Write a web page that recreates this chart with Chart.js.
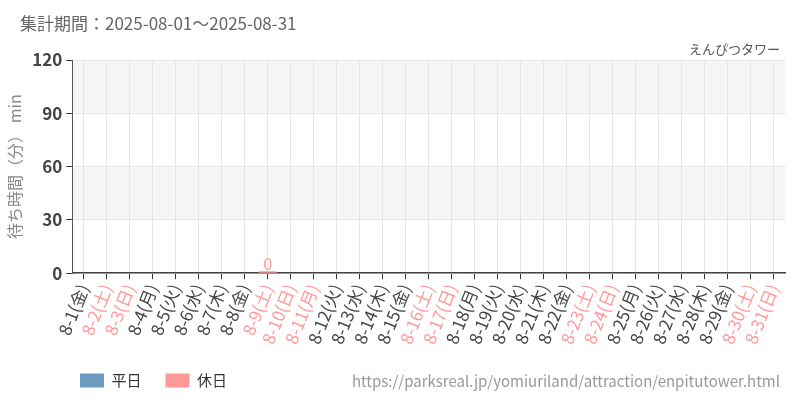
<!DOCTYPE html>
<html>
<head>
<meta charset="utf-8">
<script src="https://cdn.jsdelivr.net/npm/chart.js@4/dist/chart.umd.min.js"></script>
<style>
  body { margin: 0; background: #fff; }
  #wrap { position: relative; width: 800px; height: 400px; font-family: "Noto Sans CJK JP", "Noto Sans", sans-serif; }
  #period { position: absolute; left: 20px; top: 10px; font-size: 17px; color: #666; }
  #name { position: absolute; right: 20px; top: 39px; font-size: 13px; color: #555; }
  #url { position: absolute; right: 20px; top: 370px; font-size: 15px; color: #999; }
</style>
</head>
<body>
<div id="wrap">
  <canvas id="waitChart" width="800" height="400"></canvas>
  <div id="period">集計期間：2025-08-01～2025-08-31</div>
  <div id="name">えんぴつタワー</div>
  <div id="url">https://parksreal.jp/yomiuriland/attraction/enpitutower.html</div>
</div>
<script>
let labels = ['8-1(金)','8-2(土)','8-3(日)','8-4(月)','8-5(火)','8-6(水)','8-7(木)','8-8(金)','8-9(土)','8-10(日)',
              '8-11(月)','8-12(火)','8-13(水)','8-14(木)','8-15(金)','8-16(土)','8-17(日)','8-18(月)','8-19(火)','8-20(水)',
              '8-21(木)','8-22(金)','8-23(土)','8-24(日)','8-25(月)','8-26(火)','8-27(水)','8-28(木)','8-29(金)','8-30(土)','8-31(日)'];
// 1 = 休日 (土日祝)
let holiday = [0,1,1,0,0,0,0,0,1,1, 1,0,0,0,0,1,1,0,0,0, 0,0,1,1,0,0,0,0,0,1,1];
// 平均待ち時間（分）, null = データなし
let waitTimes = [null,null,null,null,null,null,null,null,0,null,
                 null,null,null,null,null,null,null,null,null,null,
                 null,null,null,null,null,null,null,null,null,null,null];
let yTicks = [0,30,60,90,120];

const BLUE = '#6b9bc3';
const PINK = '#ff9999';

let weekdayData = waitTimes.map(function(v,i){ return holiday[i] ? null : v; });
let holidayData = waitTimes.map(function(v,i){ return holiday[i] ? v : null; });

// 30-60, 90-120 の帯
const bandPlugin = {
    id: 'bands',
    beforeDraw: function(chart){
        let ctx = chart.ctx, a = chart.chartArea, y = chart.scales.y;
        ctx.save();
        ctx.fillStyle = '#f5f5f5';
        [[90,120],[30,60]].forEach(function(b){
            let top = y.getPixelForValue(b[1]), bot = y.getPixelForValue(b[0]);
            ctx.fillRect(a.left, top, a.right - a.left, bot - top);
        });
        ctx.restore();
    }
};

// 棒の上に値を表示
const valuePlugin = {
    id: 'values',
    afterDatasetsDraw: function(chart){
        let ctx = chart.ctx;
        ctx.save();
        ctx.font = '16px "Noto Sans CJK JP"';
        ctx.textAlign = 'center';
        ctx.textBaseline = 'bottom';
        chart.data.datasets.forEach(function(ds,di){
            let meta = chart.getDatasetMeta(di);
            meta.data.forEach(function(bar,i){
                if (ds.data[i] === null) return;
                ctx.fillStyle = ds.backgroundColor;
                ctx.fillText(ds.data[i], bar.x, bar.y + 1);
            });
        });
        ctx.restore();
    }
};

const legendShift = {
    id: 'legendShift',
    afterLayout: function(chart){
        chart.legend.left = 56;
    }
};

new Chart(document.getElementById('waitChart').getContext('2d'), {
    type: 'bar',
    data: {
        labels: labels,
        datasets: [
            { label: '平日', data: weekdayData, backgroundColor: BLUE, borderWidth: 0, minBarLength: 2, barPercentage: 0.98 },
            { label: '休日', data: holidayData, backgroundColor: PINK, borderWidth: 0, minBarLength: 2, barPercentage: 0.98 }
        ]
    },
    options: {
        responsive: false,
        animation: false,
        layout: { padding: { left: 1, right: 15, top: 60, bottom: 2 } },
        plugins: {
            legend: {
                position: 'bottom',
                align: 'start',
                labels: {
                    boxWidth: 24, boxHeight: 14, padding: 24,
                    color: '#333',
                    font: { family: '"Noto Sans CJK JP"', size: 15 }
                }
            },
            tooltip: { enabled: false }
        },
        scales: {
            x: {
                stacked: true,
                grid: { offset: false, color: '#e6e6e6', tickColor: '#333', tickLength: 6 },
                border: { color: '#444', width: 1.5 },
                ticks: {
                    autoSkip: false, minRotation: 68, maxRotation: 68, padding: 2,
                    color: function(c){ return holiday[c.index] ? PINK : '#444'; },
                    font: { family: '"Noto Sans CJK JP"', size: 17 }
                }
            },
            y: {
                min: 0, max: 120,
                afterBuildTicks: function(axis){ axis.ticks = yTicks.map(function(v){ return {value: v}; }); },
                grid: { color: '#e6e6e6', tickColor: '#333', tickLength: 6 },
                border: { color: '#555' },
                ticks: {
                    color: '#444', padding: 4,
                    font: { family: '"Noto Sans CJK JP"', size: 17, weight: 'bold' }
                },
                title: {
                    display: true, text: '待ち時間（分） min', color: '#888',
                    font: { family: '"Noto Sans CJK JP"', size: 16 }
                }
            }
        }
    },
    plugins: [bandPlugin, valuePlugin, legendShift]
});
</script>
</body>
</html>
